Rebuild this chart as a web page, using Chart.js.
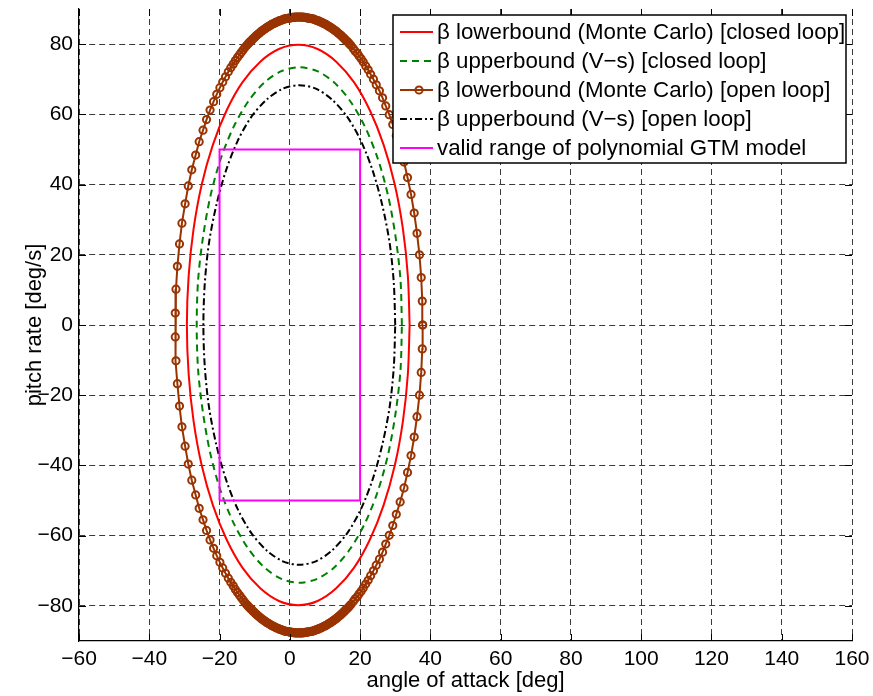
<!DOCTYPE html>
<html>
<head>
<meta charset="utf-8">
<script src="https://cdn.jsdelivr.net/npm/chart.js@4.4.0/dist/chart.umd.min.js"></script>
<style>
html,body{margin:0;padding:0;background:#fff;}
canvas{display:block;}
</style>
</head>
<body>
<canvas id="c" width="873" height="696"></canvas>
<script>
// ---- tick labels ----
const xTicks = [-60, -40, -20, 0, 20, 40, 60, 80, 100, 120, 140, 160];
const yTicks = [-80, -60, -40, -20, 0, 20, 40, 60, 80];

// ---- series labels ----
const seriesLabels = [
  "\u03B2 lowerbound (Monte Carlo) [closed loop]",
  "\u03B2 upperbound (V\u2212s) [closed loop]",
  "\u03B2 lowerbound (Monte Carlo) [open loop]",
  "\u03B2 upperbound (V\u2212s) [open loop]",
  "valid range of polynomial GTM model"
];

// ---- beta lowerbound (Monte Carlo), closed loop ----
const redX = [34.1, 33.6, 32.2, 29.9, 26.7, 22.8, 18.3, 13.2, 7.9, 2.4, -3.1, -8.4, -13.5, -18.0, -21.9, -25.1, -27.4, -28.8, -29.3, -28.8, -27.4, -25.1, -21.9, -18.0, -13.5, -8.4, -3.1, 2.4, 7.9, 13.2, 18.3, 22.8, 26.7, 29.9, 32.2, 33.6, 34.1];
const redY = [0, 13.9, 27.3, 39.9, 51.3, 61.1, 69.1, 75.0, 78.6, 79.8, 78.6, 75.0, 69.1, 61.1, 51.3, 39.9, 27.3, 13.9, 0, -13.9, -27.3, -39.9, -51.3, -61.1, -69.1, -75.0, -78.6, -79.8, -78.6, -75.0, -69.1, -61.1, -51.3, -39.9, -27.3, -13.9, 0];

// ---- beta upperbound (V-s), closed loop ----
const greenX = [31.9, 31.5, 30.1, 28.0, 25.1, 21.5, 17.3, 12.7, 7.8, 2.7, -2.4, -7.3, -11.9, -16.1, -19.7, -22.6, -24.7, -26.1, -26.5, -26.1, -24.7, -22.6, -19.7, -16.1, -11.9, -7.3, -2.4, 2.7, 7.8, 12.7, 17.3, 21.5, 25.1, 28.0, 30.1, 31.5, 31.9];
const greenY = [0, 12.8, 25.1, 36.7, 47.2, 56.2, 63.6, 69.0, 72.3, 73.4, 72.3, 69.0, 63.6, 56.2, 47.2, 36.7, 25.1, 12.8, 0, -12.8, -25.1, -36.7, -47.2, -56.2, -63.6, -69.0, -72.3, -73.4, -72.3, -69.0, -63.6, -56.2, -47.2, -36.7, -25.1, -12.8, 0];

// ---- beta lowerbound (Monte Carlo), open loop (sampled points with markers) ----
const brownX = [
  37.8, 37.7, 37.4, 36.9, 36.2, 35.4, 34.5, 33.5, 32.5, 31.4, 30.3, 29.3, 28.3, 27.3, 26.4, 25.5, 24.6, 23.8, 23.0, 22.3, 21.6, 20.9, 20.3, 19.7, 19.2, 18.6, 18.1,
  17.4, 17.0, 16.7, 16.3, 15.9, 15.6, 15.2, 14.9, 14.5, 14.2, 13.8, 13.5, 13.1, 12.8, 12.4, 12.1, 11.7, 11.4, 11.0, 10.7, 10.3, 10.0, 9.6, 9.2, 8.9, 8.5, 8.2, 7.8, 7.5, 7.1, 6.8, 6.4, 6.1, 5.7, 5.4, 5.0, 4.7, 4.3, 4.0, 3.6, 3.3, 2.9, 2.6,
  2.2, 1.8, 1.5, 1.1, 0.8, 0.4, 0.1, -0.3, -0.6, -1.0, -1.3, -1.7, -2.0, -2.4, -2.7, -3.1, -3.4, -3.8, -4.1, -4.5, -4.9, -5.2, -5.6, -5.9, -6.3, -6.6, -7.0, -7.3, -7.7, -8.0, -8.4, -8.7, -9.1, -9.4, -9.8, -10.1, -10.5, -10.8, -11.2, -11.6, -11.9, -12.3,
  -12.8, -13.3, -13.8, -14.3, -14.9, -15.5, -16.1, -16.8, -17.5, -18.3, -19.1, -19.9, -20.8, -21.7, -22.7, -23.7, -24.7, -25.8, -26.8, -27.9, -28.9, -29.8, -30.7, -31.4, -32.0, -32.4, -32.6,
  -32.6, -32.4, -32.0, -31.4, -30.7, -29.8, -28.9, -27.9, -26.8, -25.8, -24.7, -23.7, -22.7, -21.7, -20.8, -19.9, -19.1, -18.3, -17.5, -16.8, -16.1, -15.5, -14.9, -14.3, -13.8, -13.3, -12.8,
  -12.3, -11.9, -11.6, -11.2, -10.8, -10.5, -10.1, -9.8, -9.4, -9.1, -8.7, -8.4, -8.0, -7.7, -7.3, -7.0, -6.6, -6.3, -5.9, -5.6, -5.2, -4.9, -4.5, -4.1, -3.8, -3.4, -3.1, -2.7, -2.4, -2.0, -1.7, -1.3, -1.0, -0.6, -0.3, 0.1, 0.4, 0.8, 1.1, 1.5, 1.8, 2.2,
  2.6, 2.9, 3.3, 3.6, 4.0, 4.3, 4.7, 5.0, 5.4, 5.7, 6.1, 6.4, 6.8, 7.1, 7.5, 7.8, 8.2, 8.5, 8.9, 9.2, 9.6, 10.0, 10.3, 10.7, 11.0, 11.4, 11.7, 12.1, 12.4, 12.8, 13.1, 13.5, 13.8, 14.2, 14.5, 14.9, 15.2, 15.6, 15.9, 16.3, 16.7, 17.0, 17.4,
  18.1, 18.6, 19.2, 19.7, 20.3, 20.9, 21.6, 22.3, 23.0, 23.8, 24.6, 25.5, 26.4, 27.3, 28.3, 29.3, 30.3, 31.4, 32.5, 33.5, 34.5, 35.4, 36.2, 36.9, 37.4, 37.7, 37.8
];
const brownY = [
  0, 6.8, 13.5, 20.0, 26.1, 31.9, 37.2, 42.0, 46.4, 50.4, 53.9, 57.1, 59.9, 62.4, 64.7, 66.7, 68.4, 70.0, 71.4, 72.7, 73.8, 74.9, 75.8, 76.6, 77.4, 78.0, 78.7,
  79.6, 80.0, 80.4, 80.8, 81.1, 81.5, 81.8, 82.2, 82.5, 82.8, 83.1, 83.4, 83.7, 83.9, 84.2, 84.4, 84.7, 84.9, 85.1, 85.3, 85.6, 85.7, 85.9, 86.1, 86.3, 86.4, 86.6, 86.7, 86.8, 87.0, 87.1, 87.2, 87.3, 87.3, 87.4, 87.5, 87.5, 87.6, 87.6, 87.7, 87.7, 87.7, 87.7,
  87.7, 87.7, 87.7, 87.6, 87.6, 87.5, 87.5, 87.4, 87.3, 87.3, 87.2, 87.1, 87.0, 86.8, 86.7, 86.6, 86.4, 86.3, 86.1, 85.9, 85.7, 85.6, 85.3, 85.1, 84.9, 84.7, 84.4, 84.2, 83.9, 83.7, 83.4, 83.1, 82.8, 82.5, 82.2, 81.8, 81.5, 81.1, 80.8, 80.4, 80.0, 79.6,
  79.0, 78.3, 77.7, 77.0, 76.2, 75.3, 74.3, 73.3, 72.1, 70.7, 69.2, 67.6, 65.7, 63.6, 61.2, 58.5, 55.5, 52.2, 48.4, 44.2, 39.6, 34.5, 29.0, 23.1, 16.7, 10.2, 3.4,
  -3.4, -10.2, -16.7, -23.1, -29.0, -34.5, -39.6, -44.2, -48.4, -52.2, -55.5, -58.5, -61.2, -63.6, -65.7, -67.6, -69.2, -70.7, -72.1, -73.3, -74.3, -75.3, -76.2, -77.0, -77.7, -78.3, -79.0,
  -79.6, -80.0, -80.4, -80.8, -81.1, -81.5, -81.8, -82.2, -82.5, -82.8, -83.1, -83.4, -83.7, -83.9, -84.2, -84.4, -84.7, -84.9, -85.1, -85.3, -85.6, -85.7, -85.9, -86.1, -86.3, -86.4, -86.6, -86.7, -86.8, -87.0, -87.1, -87.2, -87.3, -87.3, -87.4, -87.5, -87.5, -87.6, -87.6, -87.7, -87.7, -87.7,
  -87.7, -87.7, -87.7, -87.7, -87.6, -87.6, -87.5, -87.5, -87.4, -87.3, -87.3, -87.2, -87.1, -87.0, -86.8, -86.7, -86.6, -86.4, -86.3, -86.1, -85.9, -85.7, -85.6, -85.3, -85.1, -84.9, -84.7, -84.4, -84.2, -83.9, -83.7, -83.4, -83.1, -82.8, -82.5, -82.2, -81.8, -81.5, -81.1, -80.8, -80.4, -80.0, -79.6,
  -78.7, -78.0, -77.4, -76.6, -75.8, -74.9, -73.8, -72.7, -71.4, -70.0, -68.4, -66.7, -64.7, -62.4, -59.9, -57.1, -53.9, -50.4, -46.4, -42.0, -37.2, -31.9, -26.1, -20.0, -13.5, -6.8, 0
];

// ---- beta upperbound (V-s), open loop ----
const blackX = [30.0, 29.6, 28.4, 26.3, 23.6, 20.3, 16.4, 12.0, 7.4, 2.7, -2.0, -6.6, -11.0, -14.9, -18.2, -20.9, -23.0, -24.2, -24.6, -24.2, -23.0, -20.9, -18.2, -14.9, -11.0, -6.6, -2.0, 2.7, 7.4, 12.0, 16.4, 20.3, 23.6, 26.3, 28.4, 29.6, 30.0];
const blackY = [0, 11.9, 23.4, 34.2, 43.9, 52.3, 59.2, 64.2, 67.3, 68.3, 67.3, 64.2, 59.2, 52.3, 43.9, 34.2, 23.4, 11.9, 0, -11.9, -23.4, -34.2, -43.9, -52.3, -59.2, -64.2, -67.3, -68.3, -67.3, -64.2, -59.2, -52.3, -43.9, -34.2, -23.4, -11.9, 0];

// ---- valid range of polynomial GTM model ----
const rangeX = [-20, -20, 20, 20, -20];
const rangeY = [-50, 50, 50, -50, -50];

const zip = (xs, ys) => xs.map((x, i) => ({x: x, y: ys[i]}));

const FONT = '"Liberation Sans", Arial, Helvetica, sans-serif';
Chart.defaults.font.family = FONT;
Chart.defaults.color = '#000';

const innerTicks = {
  id: 'innerTicks',
  afterDatasetsDraw(chart) {
    const {ctx, chartArea: a, scales: {x, y}} = chart;
    const L = 7;
    ctx.save();
    ctx.strokeStyle = '#000';
    ctx.lineWidth = 1;
    ctx.setLineDash([]);
    ctx.beginPath();
    xTicks.forEach(v => {
      const px = Math.round(x.getPixelForValue(v)) + 0.5;
      ctx.moveTo(px, a.bottom); ctx.lineTo(px, a.bottom - L);
      ctx.moveTo(px, a.top); ctx.lineTo(px, a.top + L);
    });
    yTicks.forEach(v => {
      const py = Math.round(y.getPixelForValue(v)) + 0.5;
      ctx.moveTo(a.left, py); ctx.lineTo(a.left + L, py);
      ctx.moveTo(a.right, py); ctx.lineTo(a.right - L, py);
    });
    ctx.stroke();
    ctx.restore();
  }
};

const boxLegend = {
  id: 'boxLegend',
  afterDraw(chart) {
    const ctx = chart.ctx;
    const L = 393, T = 15, W = 453, H = 148;
    ctx.save();
    ctx.fillStyle = '#fff';
    ctx.fillRect(L, T, W, H);
    ctx.strokeStyle = '#000';
    ctx.lineWidth = 1.5;
    ctx.setLineDash([]);
    ctx.strokeRect(L, T, W, H);
    chart.data.datasets.forEach((ds, i) => {
      const cy = T + 17 + i * 29;
      ctx.strokeStyle = ds.borderColor;
      ctx.lineWidth = ds.borderWidth;
      ctx.setLineDash(ds.borderDash || []);
      ctx.beginPath();
      ctx.moveTo(400, cy); ctx.lineTo(433, cy);
      ctx.stroke();
      ctx.setLineDash([]);
      if (ds.pointRadius > 0) {
        ctx.lineWidth = ds.pointBorderWidth;
        ctx.beginPath();
        ctx.arc(419, cy, ds.pointRadius, 0, Math.PI * 2);
        ctx.stroke();
      }
      ctx.fillStyle = '#000';
      ctx.font = '22.3px ' + FONT;
      ctx.textAlign = 'left';
      ctx.textBaseline = 'middle';
      ctx.fillText(ds.label, 437, cy + 1);
    });
    ctx.restore();
  }
};

new Chart(document.getElementById('c'), {
  type: 'scatter',
  data: {
    datasets: [
      { label: seriesLabels[0], data: zip(redX, redY), showLine: true, borderColor: '#ff0000', borderWidth: 2,
        pointRadius: 0, tension: 0.3, order: 5 },
      { label: seriesLabels[1], data: zip(greenX, greenY), showLine: true, borderColor: '#008000', borderWidth: 2,
        borderDash: [7, 5], pointRadius: 0, tension: 0.3, order: 4 },
      { label: seriesLabels[2], data: zip(brownX, brownY), showLine: true, borderColor: '#993300', borderWidth: 2,
        pointRadius: 3.6, pointBorderWidth: 2, pointBorderColor: '#993300', pointBackgroundColor: 'rgba(0,0,0,0)',
        pointHoverRadius: 3.6, tension: 0, order: 3 },
      { label: seriesLabels[3], data: zip(blackX, blackY), showLine: true, borderColor: '#000000', borderWidth: 2,
        borderDash: [7, 3, 2, 3], pointRadius: 0, tension: 0.3, order: 2 },
      { label: seriesLabels[4], data: zip(rangeX, rangeY), showLine: true, borderColor: '#ff00ff', borderWidth: 2,
        pointRadius: 0, tension: 0, order: 1 }
    ]
  },
  options: {
    responsive: false,
    animation: false,
    devicePixelRatio: 1,
    events: [],
    layout: { padding: { left: 0, right: 21, top: 9, bottom: 0 } },
    plugins: { legend: { display: false }, tooltip: { enabled: false } },
    scales: {
      x: {
        type: 'linear', min: -60, max: 160,
        afterBuildTicks: s => { s.ticks = xTicks.map(v => ({value: v})); },
        afterFit: s => { s.height = 55; s.paddingLeft = 0; s.paddingRight = 0; s.paddingTop = 0; s.paddingBottom = 0; },
        grid: { color: '#3a3a3a', lineWidth: 1, drawTicks: false },
        border: { display: true, color: '#000', width: 1.2, dash: [6, 4] },
        ticks: { padding: 6, font: { size: 21 }, color: '#000', maxRotation: 0,
                 callback: v => String(v).replace('-', '\u2212') },
        title: { display: true, text: 'angle of attack [deg]', font: { size: 22 }, color: '#000',
                 padding: { top: 0, bottom: 2 } }
      },
      y: {
        type: 'linear', min: -90, max: 90,
        afterBuildTicks: s => { s.ticks = yTicks.map(v => ({value: v})); },
        afterFit: s => { s.width = 79; s.paddingLeft = 0; s.paddingRight = 0; s.paddingTop = 0; s.paddingBottom = 0; },
        grid: { color: '#3a3a3a', lineWidth: 1, drawTicks: false },
        border: { display: true, color: '#000', width: 1.2, dash: [6, 4] },
        ticks: { padding: 6, font: { size: 21 }, color: '#000',
                 callback: v => String(v).replace('-', '\u2212') },
        title: { display: true, text: 'pitch rate [deg/s]', font: { size: 22 }, color: '#000',
                 padding: { top: 22, bottom: 0 } }
      }
    }
  },
  plugins: [innerTicks, boxLegend]
});
</script>
</body>
</html>
